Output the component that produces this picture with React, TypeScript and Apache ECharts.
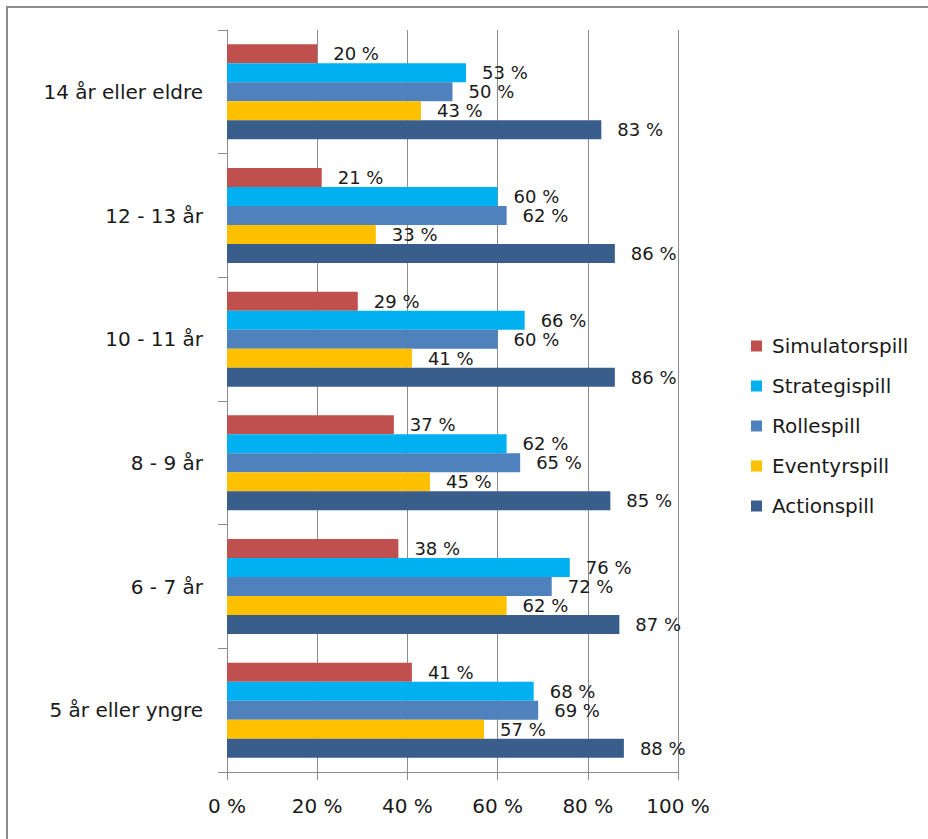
import React, { useEffect, useRef } from "react";
import * as echarts from "echarts";

const categories = [
  "5 år eller yngre",
  "6 - 7 år",
  "8 - 9 år",
  "10 - 11 år",
  "12 - 13 år",
  "14 år eller eldre",
];
const actionspill = [88, 87, 85, 86, 86, 83];
const eventyrspill = [57, 62, 45, 41, 33, 43];
const rollespill = [69, 72, 65, 60, 62, 50];
const strategispill = [68, 76, 62, 66, 60, 53];
const simulatorspill = [41, 38, 37, 29, 21, 20];
const xTicks = { min: 0, max: 100, interval: 20 };

const seriesDefs = [
  { name: "Simulatorspill", data: simulatorspill, color: "#C0504D" },
  { name: "Strategispill", data: strategispill, color: "#00B0F0" },
  { name: "Rollespill", data: rollespill, color: "#4F81BD" },
  { name: "Eventyrspill", data: eventyrspill, color: "#FFC000" },
  { name: "Actionspill", data: actionspill, color: "#3A5E8C" },
];
const legendOrder = ["Simulatorspill", "Strategispill", "Rollespill", "Eventyrspill", "Actionspill"];

const FONT = "'DejaVu Sans', sans-serif";
const TXT = "#1a1a1a";

export default function App() {
  const ref = useRef<HTMLDivElement>(null);
  useEffect(() => {
    document.body.style.margin = "0";
    if (!ref.current) return;
    const chart = echarts.init(ref.current, null, { renderer: "svg" });
    chart.setOption({
      animation: false,
      backgroundColor: "#ffffff",
      textStyle: { fontFamily: FONT },
      graphic: [
        {
          type: "rect",
          shape: { x: 7, y: 7, width: 1200, height: 1200 },
          style: { fill: "none", stroke: "#8c8c8c", lineWidth: 2 },
          silent: true,
        },
      ],
      grid: { left: 227, right: 250, top: 30, bottom: 67, containLabel: false },
      legend: {
        data: legendOrder,
        orient: "vertical",
        left: 746,
        top: 331,
        itemWidth: 11,
        itemHeight: 11,
        itemGap: 20,
        icon: "rect",
        textStyle: { fontSize: 20, lineHeight: 20, color: TXT, fontFamily: FONT, padding: [0, 0, 0, 5] },
      },
      xAxis: {
        type: "value",
        min: xTicks.min,
        max: xTicks.max,
        interval: xTicks.interval,
        axisLine: { show: true, lineStyle: { color: "#8c8c8c", width: 1 } },
        axisTick: { show: true, length: 8, lineStyle: { color: "#8c8c8c" } },
        splitLine: { show: true, lineStyle: { color: "#8c8c8c", width: 1 } },
        axisLabel: {
          formatter: "{value} %",
          fontSize: 20,
          color: TXT,
          margin: 24,
          fontFamily: FONT,
        },
      },
      yAxis: {
        type: "category",
        data: categories,
        axisLine: { show: true, lineStyle: { color: "#8c8c8c", width: 1 } },
        axisTick: { show: true, length: 9, lineStyle: { color: "#8c8c8c" } },
        axisLabel: { fontSize: 20, color: TXT, margin: 24, fontFamily: FONT },
      },
      series: seriesDefs.map((s) => ({
        type: "bar",
        name: s.name,
        data: s.data,
        barWidth: 19,
        barGap: "0%",
        itemStyle: { color: s.color },
        label: {
          show: true,
          position: "right",
          distance: 16,
          formatter: "{c} %",
          fontSize: 18,
          lineHeight: 18,
          color: TXT,
          fontFamily: FONT,
        },
      })),
    });
    return () => chart.dispose();
  }, []);
  return <div ref={ref} style={{ width: 928, height: 839 }} />;
}
